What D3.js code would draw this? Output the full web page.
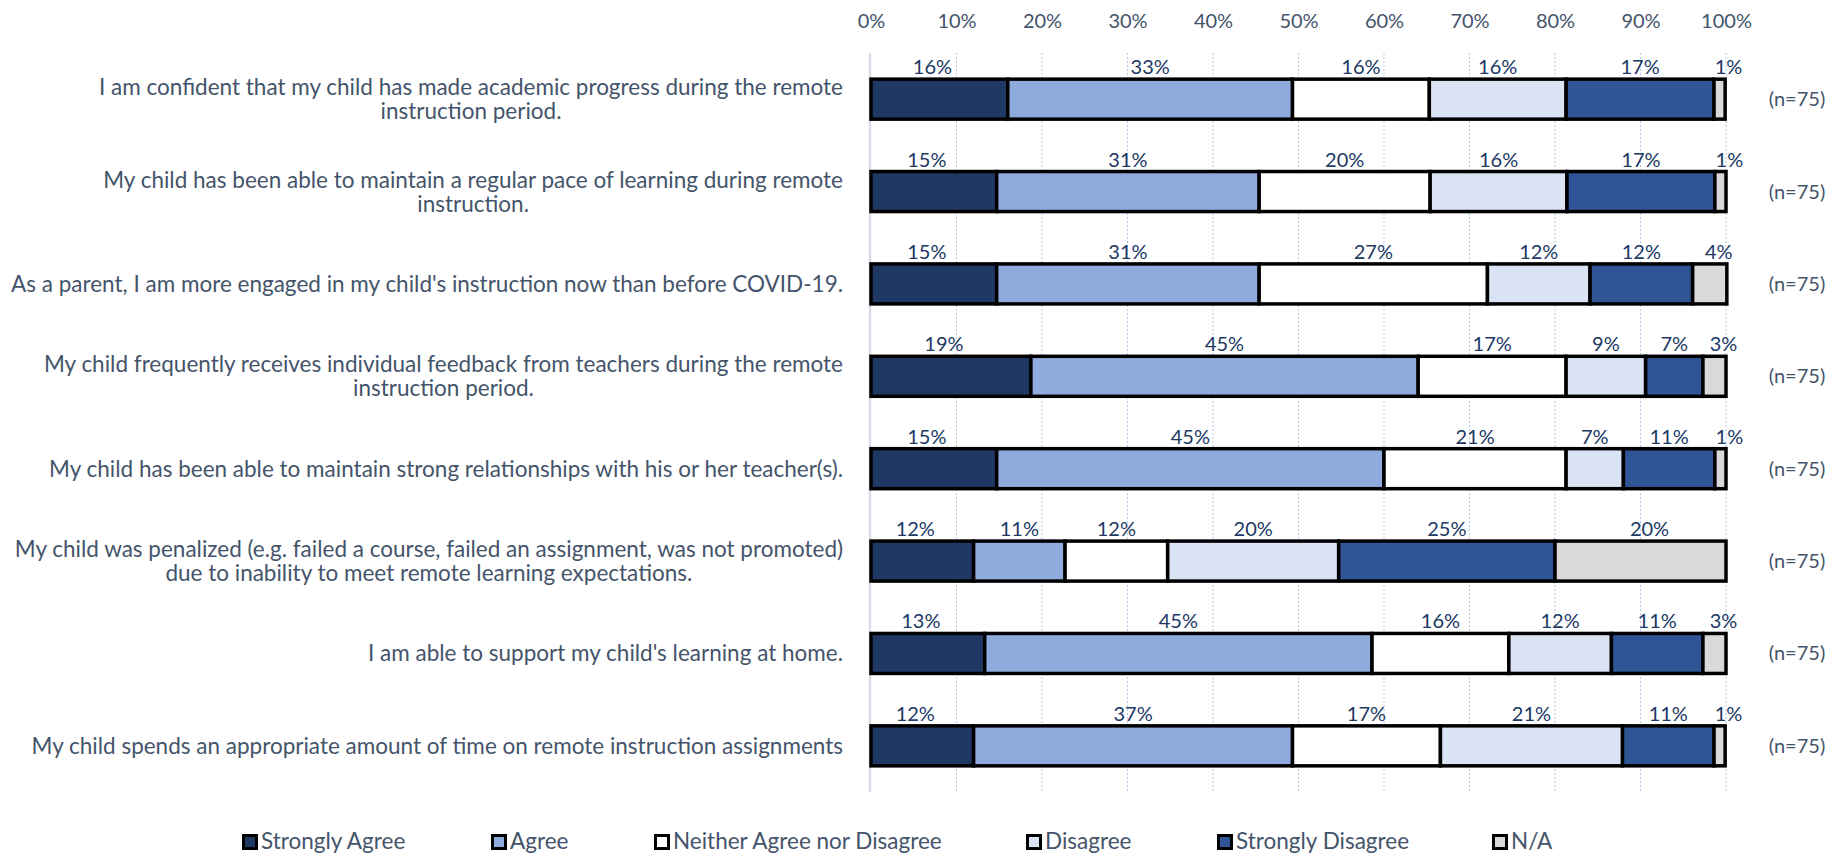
<!DOCTYPE html>
<html lang="en">
<head>
<meta charset="UTF-8">
<title>Remote instruction survey</title>
<script src="https://cdn.jsdelivr.net/npm/d3@7"></script>
<style>
    body { margin: 0; background: #fff; }
    text { font-family: Lato, "Open Sans", sans-serif; }
</style>
</head>
<body>
<script>

    // survey statements (one row each), in display order
    const statements = [
        ["I am confident that my child has made academic progress during the remote", "instruction period."],
        ["My child has been able to maintain a regular pace of learning during remote", "instruction."],
        ["As a parent, I am more engaged in my child's instruction now than before COVID-19."],
        ["My child frequently receives individual feedback from teachers during the remote", "instruction period."],
        ["My child has been able to maintain strong relationships with his or her teacher(s)."],
        ["My child was penalized (e.g. failed a course, failed an assignment, was not promoted)", "due to inability to meet remote learning expectations."],
        ["I am able to support my child's learning at home."],
        ["My child spends an appropriate amount of time on remote instruction assignments"]
    ];
    const responses = ["n=75", "n=75", "n=75", "n=75", "n=75", "n=75", "n=75", "n=75"];

    const seriesNames = ["Strongly Agree", "Agree", "Neither Agree nor Disagree", "Disagree", "Strongly Disagree", "N/A"];

    // percent of respondents, per series, one value per statement
    const stronglyAgree    = [16.0, 14.7, 14.7, 18.7, 14.7, 12.0, 13.3, 12.0];
    const agree            = [33.3, 30.7, 30.7, 45.3, 45.3, 10.7, 45.3, 37.3];
    const neither          = [16.0, 20.0, 26.7, 17.3, 21.3, 12.0, 16.0, 17.3];
    const disagree         = [16.0, 16.0, 12.0,  9.3,  6.7, 20.0, 12.0, 21.3];
    const stronglyDisagree = [17.3, 17.3, 12.0,  6.7, 10.7, 25.3, 10.7, 10.7];
    const notApplicable    = [ 1.3,  1.3,  4.0,  2.7,  1.3, 20.0,  2.7,  1.3];

    const xTicks = [0, 10, 20, 30, 40, 50, 60, 70, 80, 90, 100];

    const colors = ["#203864", "#8FAADC", "#FFFFFF", "#DAE3F3", "#2F5597", "#D9D9D9"];
    const textColor = "#44546A";
    const labelColor = "#203864";
    const numSize = 20;     // percentages, counts
    const wordSize = 22.5;  // statements, legend

    const w = 1845, h = 856;
    const plotLeft = 871, plotRight = 1726, plotTop = 53, plotBottom = 792;

    const seriesValues = [stronglyAgree, agree, neither, disagree, stronglyDisagree, notApplicable];
    const keys = statements.map((d, i) => "s" + i);
    const rows = keys.map((k, i) => {
        const row = { key: k };
        seriesNames.forEach((s, j) => row[s] = seriesValues[j][i]);
        return row;
    });
    const stacked = d3.stack().keys(seriesNames)(rows);

    const svg = d3.select("body").append("svg")
        .attr("width", w)
        .attr("height", h);

    const xScale = d3.scaleLinear().domain([0, 100]).range([plotLeft, plotRight]);
    const yScale = d3.scaleBand().domain(keys).range([plotTop, plotBottom])
        .paddingInner(0.567).paddingOuter(0.283);

    // gridlines
    svg.append("g").selectAll("line")
        .data(xTicks.slice(1))
        .enter()
        .append("line")
        .attr("x1", d => xScale(d)).attr("x2", d => xScale(d))
        .attr("y1", plotTop).attr("y2", plotBottom)
        .attr("stroke", "#B4C7E7")
        .attr("stroke-width", 1)
        .attr("stroke-dasharray", "2,2");

    svg.append("line")
        .attr("x1", xScale(0) - 1).attr("x2", xScale(0) - 1)
        .attr("y1", plotTop).attr("y2", plotBottom)
        .attr("stroke", "#D9DEE8")
        .attr("stroke-width", 2.5);

    // top axis
    const xAxis = d3.axisTop(xScale)
        .tickValues(xTicks)
        .tickFormat(d => d + "%")
        .tickSize(0)
        .tickPadding(0);

    const axisG = svg.append("g")
        .attr("transform", "translate(0,28)")
        .call(xAxis);
    axisG.select(".domain").remove();
    axisG.selectAll("text")
        .attr("font-family", "Lato")
        .attr("font-size", numSize)
        .attr("fill", textColor);

    // bars
    const layers = svg.append("g").selectAll("g")
        .data(stacked)
        .enter()
        .append("g")
        .attr("fill", (d, i) => colors[i]);

    layers.selectAll("rect")
        .data(d => d)
        .enter()
        .append("rect")
        .attr("x", d => xScale(d[0]))
        .attr("y", d => yScale(d.data.key))
        .attr("width", d => xScale(d[1]) - xScale(d[0]))
        .attr("height", yScale.bandwidth())
        .attr("stroke", "black")
        .attr("stroke-width", 3.5);

    // data labels above each segment
    layers.each(function (layer, i) {
        const shift = i === 0 ? -7 : (i === seriesNames.length - 1 ? 9 : 0);
        d3.select(this).selectAll("text")
            .data(layer)
            .enter()
            .append("text")
            .attr("x", d => (xScale(d[0]) + xScale(d[1])) / 2 + shift)
            .attr("y", d => yScale(d.data.key) - 5)
            .attr("text-anchor", "middle")
            .attr("font-size", numSize)
            .attr("fill", labelColor)
            .text(d => Math.round(d[1] - d[0]) + "%");
    });

    // statement labels: block right aligned, lines centred within it
    statements.forEach((lines, i) => {
        const cy = yScale(keys[i]) + yScale.bandwidth() / 2;
        const g = svg.append("g");
        const texts = g.selectAll("text")
            .data(lines)
            .enter()
            .append("text")
            .attr("text-anchor", "middle")
            .attr("font-size", wordSize)
            .attr("fill", textColor)
            .attr("y", (d, j) => cy + (j - (lines.length - 1) / 2) * 24 + 8)
            .text(d => d);
        let maxW = 0;
        texts.each(function () { maxW = Math.max(maxW, this.getComputedTextLength()); });
        texts.attr("x", 843 - maxW / 2);
    });

    // response counts
    svg.append("g").selectAll("text")
        .data(responses)
        .enter()
        .append("text")
        .attr("x", 1797)
        .attr("y", (d, i) => yScale(keys[i]) + yScale.bandwidth() / 2 + 7)
        .attr("text-anchor", "middle")
        .attr("font-size", numSize)
        .attr("fill", textColor)
        .text(d => "(" + d + ")");

    // legend
    const legendX = [242, 491, 654, 1026, 1217, 1492];
    const legend = svg.append("g").selectAll("g")
        .data(seriesNames)
        .enter()
        .append("g")
        .attr("transform", (d, i) => "translate(" + legendX[i] + ",834)");

    legend.append("rect")
        .attr("x", 1.5).attr("y", 1.5)
        .attr("width", 13).attr("height", 13)
        .attr("fill", (d, i) => colors[i])
        .attr("stroke", "black")
        .attr("stroke-width", 3);

    legend.append("text")
        .attr("x", 19)
        .attr("y", 15)
        .attr("font-size", wordSize)
        .attr("fill", textColor)
        .text(d => d);

</script>
</body>
</html>
